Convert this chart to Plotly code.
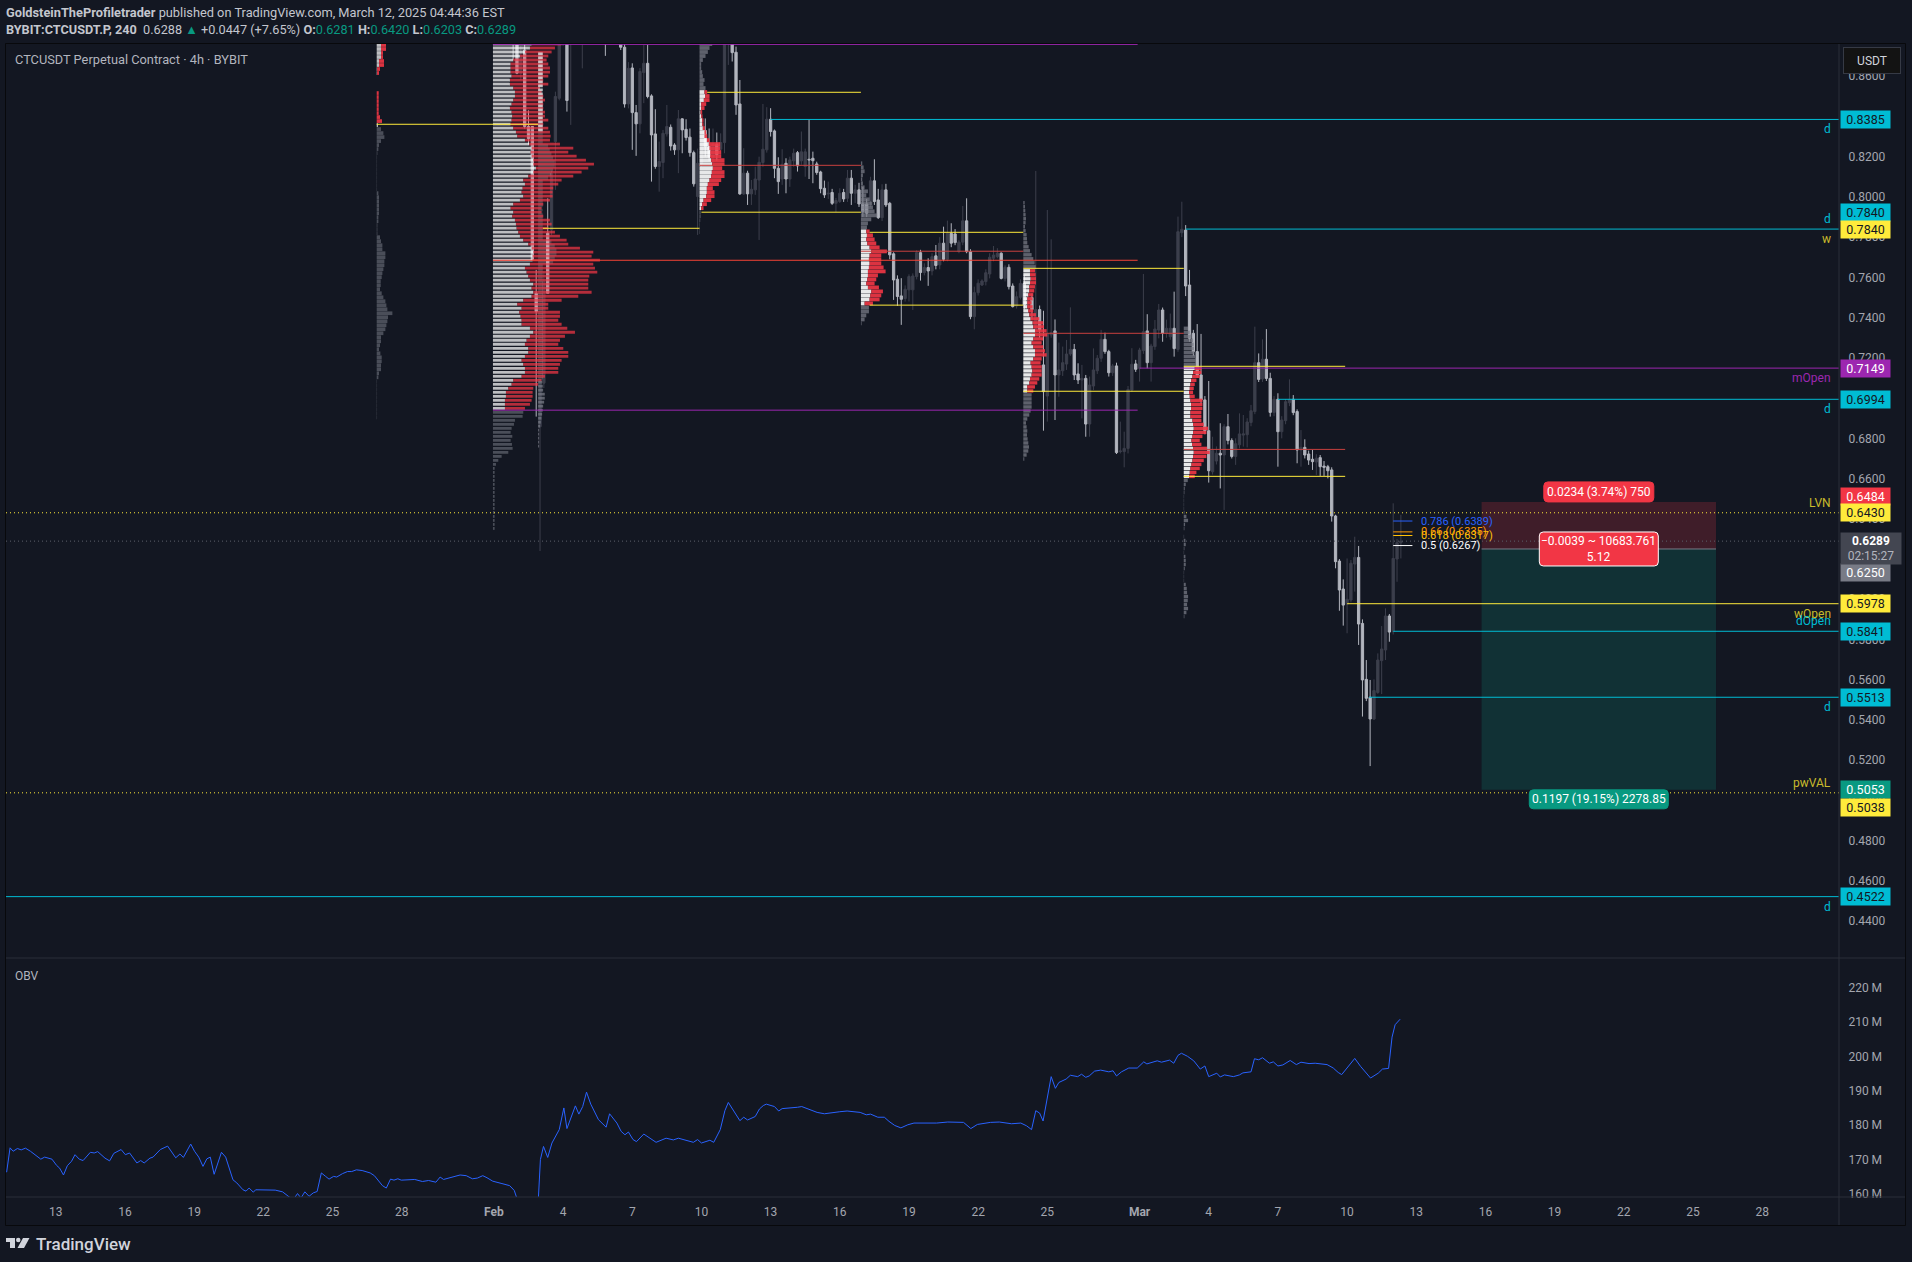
import pandas as pd
import plotly.graph_objects as go

# ---------- price candles (4h bars) ----------
candle_start = "2025-02-01 20:00"
opens = [
.8900,.8755,.8615,.8730,.8350,.8350,.7521,.6858,.7074,.7820,.7836,
.8275,.8490,.8780,.8900,.8800,.8900,.9000,.8900,.9050,.9000,
.9080,.9000,.8950,.8900,.8850,.8880,.8830,.8800,.8744,.8462,
.8641,.8419,.8363,.8618,.8664,.8502,.8313,.8151,.8171,.8313,
.8346,.8258,.8234,.8388,.8336,.8297,.8220,.8002,.8167,.8330,
.8250,.8200,.8260,.8237,.8270,.8800,.8800,.8719,.8462,.8015,
.8118,.8015,.8035,.8084,.8171,.8234,.8386,.8328,.8142,.8089,
.8167,.8089,.8179,.8220,.8179,.8151,.8187,.8192,.8164,.8124,
.8043,.8015,.8022,.7968,.7977,.8022,.7993,.8093,.8018,.8035,
.7965,.7965,.7982,.8080,.7985,.7897,.8035,.7968,.7717,.7591,
.7508,.7495,.7538,.7538,.7604,.7723,.7624,.7649,.7632,.7707,
.7662,.7770,.7690,.7819,.7816,.7728,.7775,.7881,.7728,.7405,
.7524,.7562,.7579,.7617,.7695,.7703,.7720,.7595,.7650,.7557,
.7458,.7501,.7570,.7463,.7500,.7340,.7440,.7165,.7010,.7314,
.7334,.7115,.7136,.7169,.7219,.7242,.7120,.7090,.7098,.6871,
.7060,.7136,.7198,.7292,.7231,.7126,.7160,.6734,.6734,.6750,
.7040,.7170,.7148,.7236,.7334,.7176,.7256,.7338,.7438,.7322,
.7305,.7347,.7242,.7822,.7835,.7562,.7322,.7231,.7115,.6991,
.6838,.6634,.6687,.6726,.6717,.6858,.6789,.6710,.6768,.6816,
.6818,.6879,.6933,.7176,.7095,.7193,.7098,.6929,.6994,.6833,
.6888,.6977,.6994,.6933,.6742,.6755,.6722,.6696,.6682,.6704,
.6662,.6659,.6643,.6414,.6190,.6051,.5975,.5996,.6175,.6208,
.5880,.5602,.5513,.5405,.5537,.5695,.5748,.5917,.5839,.6200,.6281]
highs = [
.8950,.8800,.8750,.8780,.8430,.8350,.7637,.7090,.7630,.7993,.8130,
.8523,.8850,.9050,.8950,.8950,.9050,.9150,.9100,.9120,.9130,
.9130,.9060,.9000,.8950,.8950,.8920,.8890,.8850,.8760,.8670,
.8664,.8457,.8640,.8755,.8755,.8510,.8436,.8275,.8333,.8457,
.8360,.8267,.8432,.8391,.8386,.8340,.8230,.8240,.8340,.8390,
.8340,.8340,.8320,.8316,.8850,.8950,.8850,.8747,.8581,.8242,
.8130,.8084,.8150,.8200,.8462,.8446,.8441,.8335,.8197,.8237,
.8192,.8200,.8240,.8228,.8325,.8240,.8383,.8225,.8175,.8130,
.8081,.8076,.8040,.7995,.8043,.8040,.8134,.8134,.8060,.8070,
.8050,.7990,.8100,.8187,.8040,.8063,.8065,.7975,.7725,.7610,
.7596,.7560,.7615,.7620,.7735,.7737,.7670,.7695,.7720,.7761,
.7800,.7852,.7882,.7869,.7840,.7785,.7955,.7993,.7740,.7554,
.7590,.7590,.7640,.7720,.7756,.7745,.7725,.7660,.7665,.7570,
.7530,.7590,.7610,.7520,.7520,.8129,.7460,.7434,.7935,.7789,
.7391,.7276,.7256,.7289,.7451,.7269,.7173,.7165,.7115,.7107,
.7247,.7214,.7339,.7325,.7240,.7170,.7176,.6883,.6833,.7060,
.7248,.7190,.7250,.7617,.7417,.7270,.7388,.7468,.7450,.7390,
.7420,.7529,.7902,.7976,.7860,.7637,.7339,.7368,.7319,.7010,
.7085,.6808,.6760,.6875,.6870,.6921,.6800,.6800,.6924,.6916,
.6900,.6966,.7355,.7222,.7292,.7343,.7126,.7010,.7024,.6910,
.6995,.7093,.7015,.6944,.6841,.6795,.6739,.6742,.6721,.6717,
.6687,.6668,.6656,.6420,.6200,.6099,.6203,.6195,.6311,.6265,
.5900,.5698,.5599,.5602,.5731,.5867,.5955,.5927,.6477,.6300,.6420]
lows = [
.8681,.8610,.8580,.8340,.8260,.7687,.6908,.6240,.7050,.7521,.7810,
.8035,.8480,.8750,.8424,.8358,.8800,.8850,.8639,.8850,.8900,
.8900,.8850,.8800,.8701,.8780,.8770,.8770,.8730,.8444,.8440,
.8234,.8204,.8316,.8466,.8490,.8076,.8140,.8026,.8093,.8300,
.8230,.8209,.8118,.8217,.8280,.8200,.8051,.7811,.8150,.8200,
.8180,.8170,.8180,.8190,.8217,.8656,.8673,.8408,.8010,.8010,
.7960,.7960,.8010,.7786,.8150,.8220,.8300,.8093,.8015,.8060,
.8018,.8050,.8150,.8126,.8160,.8100,.8089,.8068,.8110,.8018,
.7995,.7990,.7960,.7925,.7970,.7975,.7975,.7960,.7970,.7950,
.7900,.7900,.7950,.7960,.7890,.7880,.7950,.7690,.7488,.7458,
.7364,.7480,.7480,.7438,.7590,.7584,.7610,.7558,.7610,.7640,
.7640,.7680,.7680,.7750,.7760,.7720,.7760,.7720,.7392,.7342,
.7510,.7557,.7560,.7595,.7680,.7695,.7590,.7580,.7540,.7450,
.7445,.7490,.7440,.7420,.7390,.7310,.7300,.6838,.6883,.7300,
.6891,.7007,.7110,.7140,.7210,.7090,.7070,.6899,.6808,.6808,
.7040,.7120,.7180,.7220,.7107,.7110,.6722,.6725,.6656,.6725,
.7030,.7130,.7082,.7220,.7148,.7082,.7240,.7297,.7280,.7300,
.7290,.7206,.7230,.7800,.7507,.7280,.7210,.7100,.6970,.6820,
.6580,.6620,.6670,.6551,.6444,.6770,.6700,.6668,.6750,.6759,
.6755,.6860,.6920,.7080,.7080,.7085,.6908,.6910,.6659,.6800,
.6870,.6960,.6915,.6676,.6659,.6700,.6668,.6643,.6618,.6613,
.6613,.6601,.6386,.6154,.5943,.5869,.5831,.5985,.6038,.5773,
.5417,.5494,.5171,.5400,.5530,.5529,.5698,.5789,.5825,.6087,.6203]
closes = [
.8760,.8615,.8700,.8350,.8290,.7687,.7430,.7074,.7580,.7521,.8117,
.8499,.8780,.9000,.8479,.8900,.9000,.9100,.9050,.9000,.9080,
.9000,.8950,.8900,.8850,.8880,.8830,.8800,.8744,.8462,.8639,
.8419,.8363,.8623,.8664,.8499,.8308,.8151,.8176,.8316,.8350,
.8253,.8234,.8388,.8333,.8295,.8220,.8065,.8167,.8330,.8250,
.8200,.8260,.8210,.8270,.8790,.8900,.8717,.8457,.8015,.8118,
.8015,.8038,.8089,.8172,.8237,.8386,.8325,.8142,.8076,.8162,
.8089,.8184,.8217,.8154,.8224,.8224,.8184,.8180,.8121,.8041,
.8010,.8018,.7968,.7982,.8018,.7990,.8093,.8018,.8035,.7965,
.7927,.7919,.8080,.7977,.7897,.8035,.7960,.7712,.7587,.7505,
.7491,.7541,.7604,.7607,.7723,.7624,.7649,.7632,.7703,.7659,
.7770,.7690,.7819,.7770,.7773,.7775,.7881,.7728,.7405,.7524,
.7571,.7582,.7623,.7700,.7711,.7720,.7595,.7650,.7554,.7455,
.7504,.7570,.7463,.7500,.7440,.7440,.7340,.7032,.7322,.7325,
.7115,.7140,.7176,.7219,.7242,.7115,.7090,.7098,.6871,.7065,
.7140,.7198,.7292,.7231,.7126,.7160,.6729,.6737,.6750,.7043,
.7168,.7143,.7239,.7330,.7176,.7259,.7343,.7438,.7322,.7347,
.7347,.7246,.7827,.7839,.7557,.7297,.7231,.7115,.6991,.6838,
.6639,.6739,.6726,.6717,.6858,.6789,.6710,.6773,.6822,.6822,
.6881,.6937,.7176,.7093,.7193,.7098,.6929,.6994,.6833,.6891,
.6982,.6994,.6928,.6742,.6755,.6717,.6692,.6684,.6701,.6659,
.6656,.6639,.6414,.6187,.6046,.5971,.6000,.6179,.6208,.5877,
.5599,.5508,.5405,.5546,.5698,.5753,.5917,.5837,.6203,.6281,.6289]

# ---------- OBV: bars counted from 1 Feb 00:00, value in millions ----------
obv_bar = [-126.8,-125.9,-125.1,-124.0,-123.0,-121.9,-120.6,-119.0,-117.9,-116.9,-115.0,-113.8,-113.0,-112.0,-111.0,-109.9,-109.0,-107.9,-106.9,-105.0,-104.0,-103.1,-101.2,-100.0,-98.9,-97.0,-95.9,-94.8,-92.9,-91.9,-91.0,-89.5,-88.7,-86.8,-84.9,-82.8,-81.7,-80.8,-78.9,-77.9,-76.8,-75.7,-74.7,-73.8,-72.8,-70.9,-69.8,-67.9,-66.9,-65.3,-64.5,-63.7,-62.6,-62.0,-56.9,-55.0,-52.9,-52.1,-51.1,-50.2,-49.2,-48.1,-47.0,-46.0,-44.9,-43.8,-42.9,-41.7,-40.9,-39.4,-38.1,-37.0,-35.8,-34.3,-32.2,-31.1,-29.8,-29.0,-28.0,-26.9,-26.0,-25.0,-24.1,-21.8,-20.6,-18.6,-17.0,-15.1,-14.0,-13.1,-10.7,-8.8,-7.2,-5.6,-4.3,-2.9,-1.8,-0.3,2.1,4.1,5.3,6.1,8.4,11.3,11.6,12.1,12.9,14.0,15.1,17.0,18.2,19.0,21.2,22.1,23.1,24.1,25.2,27.2,29.2,30.1,32.0,33.1,34.1,35.0,36.2,37.1,39.0,41.1,42.2,44.8,46.7,48.0,50.7,51.9,53.0,54.0,56.2,57.2,58.9,60.1,61.0,63.1,64.0,65.0,66.0,68.0,69.1,70.1,70.9,73.0,74.1,75.0,76.9,79.0,80.1,82.0,84.1,86.0,88.1,90.0,91.9,94.0,95.3,96.9,98.0,99.9,101.6,102.8,104.3,105.9,107.7,109.3,112.0,115.2,118.1,121.3,122.2,124.1,125.8,129.2,131.5,134.7,137.1,138.6,139.9,141.0,142.0,142.9,144.0,145.0,146.1,147.0,148.9,150.0,151.9,152.9,154.0,154.9,156.3,157.9,160.0,161.1,162.0,163.3,165.2,167.4,169.1,169.9,172.6,173.7,175.8,176.9,178.0,178.9,180.5,182.1,183.8,185.0,186.0,188.1,189.0,190.1,192.4,194.0,194.9,197.0,197.9,199.0,200.0,201.8,202.8,204.0,205.3,207.2,208.8,210.0,212.1,213.7,216.8,218.4,219.7,220.6,224.0,225.5,228.1,230.1,231.2,232.8,233.7,234.5,235.8]
obv_m = [166.3,173.4,172.4,173.2,172.8,173.3,172.4,170.9,170.1,170.7,170.1,168.3,167.5,165.5,168.2,169.5,171.4,170.1,169.7,172.1,171.9,172.3,170.4,169.6,171.8,172.9,171.4,171.9,169.0,169.7,169.0,170.4,170.7,172.9,173.9,170.5,171.6,170.6,174.5,172.4,170.7,168.0,170.2,170.7,165.7,172.1,170.7,164.1,163.2,161.2,160.8,161.7,160.5,161.2,161.1,160.6,158.8,158.5,160.1,158.8,160.6,159.3,160.3,160.7,166.1,165.1,164.3,165.1,164.9,165.9,166.5,166.5,167.0,166.8,166.1,165.3,163.7,162.4,161.7,164.3,164.0,164.4,164.0,164.0,164.2,163.6,163.9,163.4,164.9,164.2,164.9,165.5,165.3,164.4,164.6,165.3,164.7,163.7,163.0,162.4,161.0,158.3,155.9,155.9,159.3,170.0,173.8,170.6,174.8,178.7,185.0,179.0,185.6,183.2,185.4,189.6,186.1,181.6,179.4,183.3,180.6,178.2,177.2,178.0,175.8,175.2,177.4,175.8,175.0,176.2,175.7,176.2,175.3,175.0,175.8,174.8,175.6,175.0,178.7,184.2,186.6,183.0,181.3,182.3,181.5,182.5,184.7,185.7,186.1,185.4,184.1,184.8,184.9,185.2,185.4,184.5,183.7,183.3,183.7,183.9,184.1,183.9,183.7,183.0,183.2,182.3,182.3,181.1,179.9,179.2,180.1,180.6,180.6,180.6,180.9,180.9,180.8,179.0,180.2,180.8,180.9,180.4,180.6,179.8,178.7,184.2,183.5,181.2,187.4,194.1,190.7,192.4,193.4,194.5,194.1,194.8,193.9,194.3,195.7,196.0,195.5,195.8,194.3,195.5,196.6,196.6,198.4,197.8,198.7,198.3,198.9,198.0,200.3,200.9,200.0,198.7,196.3,197.2,194.1,195.1,194.0,194.6,194.1,194.6,195.2,195.5,199.3,199.0,199.6,198.0,198.4,197.2,197.5,198.8,197.6,198.3,197.9,198.0,197.6,196.6,195.3,194.7,199.4,197.1,193.7,195.1,196.3,196.5,205.6,209.2,210.8]

# ---------- volume profiles (rows from the top, fixed price bin) ----------
bin_size = 0.00199

a_anchor = "2025-01-26 22:00"; a_top = 0.8755
a_gray_top = []
a_up = [13,13,13,13,7,7,1,1,0,0,0,0,0,0,0,0,0,0,0,0,4]
a_down = [15,15,6,6,15,15,9,6,0,0,0,0,6,6,6,6,6,6,10,16,0]
a_gray_bottom = [13,20,23,13,7,5,2,1,1,1,1,1,1,1,1,1,5,7,7,7,7,7,5,5,2,2,2,10,13,17,17,26,26,23,23,20,17,15,12,12,10,15,20,26,29,32,47,34,32,29,26,20,13,13,10,7,11,15,15,13,13,7,5,1,1,1,1,1,1,1,1,1,1]

b_anchor = "2025-01-31 23:00"; b_top = 0.8760
b_up = [116,111,96,81,61,53,53,53,56,51,51,61,66,66,61,56,51,56,58,56,53,61,69,73,96,109,116,113,116,121,121,129,121,106,91,96,89,86,91,81,61,53,61,58,66,69,71,76,81,91,106,116,121,119,119,111,96,101,106,111,121,116,121,116,91,73,86,79,83,86,86,111,121,111,101,96,106,106,96,86,91,96,96,86,61,56,46,39,39,36,36,36]
b_down = [90,75,80,85,100,113,118,118,110,100,115,80,80,85,95,95,100,100,98,110,98,105,102,100,75,92,125,113,135,158,182,157,145,135,115,100,92,93,88,90,90,93,85,93,105,107,95,110,120,130,120,145,180,177,202,190,210,212,183,175,165,170,175,140,115,93,80,122,118,110,120,112,125,105,100,100,105,120,130,120,110,100,100,70,85,80,75,80,80,80,75,60]
b_gray_bottom = [91,89,66,63,56,53,58,53,57,59,46,26,16,9,5,5,5,5,5,5,5,5,5,5,5,5,5,5,5,5]

s_anchor = "2025-02-02 22:00"; s_top = 0.8711
s_up = [14]*20
s_down = [0]*20
s_mid = [14,14,14,30,35,40,45,50,50,45,40,30,14,14,14,14,14,14,14,14,14,14,14,14,14,14,14,40,50,55,55,50,45,14,14,14,14,14,14,14,14,14,14,14,14,14,14,14,14,14,14,14,14,14,14,14,14,14,14,14,14,14]
s_gray_bottom = [12,14,15,20,20,18,15,14,12,10,8,6,3,3,3,3,3]

c_anchor = "2025-02-09 22:00"; c_top = 0.8760
c_gray_top = [38,30,25,18,10,5,5,8,10,15,12,18]
c_up = [15,17,13,5,5,3,5,8,8,10,15,15,22,28,30,32,32,35,38,40,37,35,30,25,22,22,20,12,8,5]
c_down = [8,13,17,15,10,5,4,4,4,6,5,8,8,34,32,33,33,40,37,28,38,40,35,33,18,23,25,23,14,7]
c_gray_bottom = [3,3,2,1,1,1]

d_anchor = "2025-02-16 22:00"; d_top = 0.8167
d_gray_top = [4,8,11,6,4,6,11,21,16,26,34,36,41,49,31,21,18]
d_up = [16,18,16,19,26,31,26,24,26,24,21,21,19,16,21,31,28,26,11]
d_down = [10,18,25,27,30,47,35,37,35,44,53,30,27,25,33,35,33,30,25]
d_gray_bottom = [24,24,16,11,2]

e_anchor = "2025-02-23 23:00"; e_top = 0.7971
e_gray_top = [4,5,6,7,8,7,5,7,10,11,12,16,20,25,30,34,37]
e_up = [20,20,22,20,18,18,15,12,12,12,15,18,22,28,30,35,35,30,25,30,35,35,30,22,25,27,25,20,18,12,12]
e_down = [15,17,16,18,17,15,15,16,13,16,15,20,26,32,32,35,37,30,30,30,30,35,25,30,30,28,30,28,24,23,18]
e_gray_bottom = [25,25,25,25,22,18,12,8,10,12,11,13,15,17,15,10,3]

f_anchor = "2025-03-02 22:00"; f_top = 0.7347
f_gray_top = [13,18,23,28,30,31,32,34,36,36]
f_up = [33,28,26,22,20,18,16,18,20,22,22,20,20,26,28,30,28,26,23,25,28,30,28,26,23,20,18,16]
f_down = [20,25,22,16,13,12,12,15,36,34,34,33,33,27,32,43,40,30,25,28,42,48,40,34,30,28,20,17]
f_gray_bottom = [12,6,3,2,1,1,1,1,2,8,13,4,2,0,1,5,6,2,1,5,6,6,3,1,1,1,6,9,10,13,12,10,13,8,2]

# ---------- level lines ----------
axis_end = "2025-03-31 08:00"
axis_start = "2025-01-10 20:10"
level_price = [.8758,.8361,.8520,.8385,.8157,.7924,.7844,.7685,.6940,.7824,.7730,.7462,.7322,.7645,.7034,.7149,.7840,.7158,.6994,.6745,.6611,.5978,.5841,.5513,.4522]
level_from = ["2025-01-31 23:00","2025-01-26 22:00","2025-02-10 06:00","2025-02-13 00:00","2025-02-09 22:00","2025-02-10 00:00","2025-02-03 03:00","2025-01-31 23:00","2025-01-31 23:00","2025-02-17 07:00","2025-02-16 22:00","2025-02-17 07:00","2025-02-23 23:00","2025-02-23 23:00","2025-02-23 23:00","2025-03-01 00:00","2025-03-03 00:00","2025-03-02 22:00","2025-03-07 00:00","2025-03-02 22:00","2025-03-02 22:00","2025-03-10 00:00","2025-03-12 00:00","2025-03-10 23:00",axis_start]
level_to = ["2025-02-28 22:00","2025-02-02 22:00","2025-02-16 22:00",axis_end,"2025-02-16 22:00","2025-02-16 22:00","2025-02-09 22:00","2025-02-28 22:00","2025-02-28 22:00","2025-02-23 23:00","2025-02-23 23:00","2025-02-23 23:00","2025-03-02 22:00","2025-03-02 22:00","2025-03-02 22:00",axis_end,axis_end,"2025-03-09 22:00",axis_end,"2025-03-09 22:00","2025-03-09 22:00",axis_end,axis_end,axis_end,axis_end]
level_color = ["#9c27b0","#ffeb3b","#ffeb3b","#00bcd4","#c8403f","#ffeb3b","#ffeb3b","#f44336","#9c27b0","#ffeb3b","#c8403f","#ffeb3b","#c8403f","#ffeb3b","#ffeb3b","#9c27b0","#00bcd4","#ffeb3b","#00bcd4","#c8403f","#ffeb3b","#ffeb3b","#00bcd4","#00bcd4","#00bcd4"]
dotted_price = [.6430,.5038,.6289]
dotted_color = ["#ffeb3b","#ffeb3b","#5d606b"]

# fib levels
fib_ratio = ["0.786","0.66","0.618","0.5"]
fib_price = [.6389,.6335,.6317,.6267]
fib_color = ["#2962ff","#ff9800","#ffc107","#ffffff"]
fib_from = "2025-03-12 00:00"
fib_to = "2025-03-12 20:00"

# position tool
pos_from = "2025-03-15 20:00"; pos_to = "2025-03-26 00:00"
pos_stop = .6484; pos_entry = .6250; pos_target = .5053

# axis labels
price_ticks = [.44,.46,.48,.50,.52,.54,.56,.58,.60,.62,.64,.66,.68,.70,.72,.74,.76,.78,.80,.82,.84,.86]
obv_ticks = [160,170,180,190,200,210,220]
date_ticks = ["2025-01-13","2025-01-16","2025-01-19","2025-01-22","2025-01-25","2025-01-28","2025-02-01","2025-02-04","2025-02-07","2025-02-10","2025-02-13","2025-02-16","2025-02-19","2025-02-22","2025-02-25","2025-03-01","2025-03-04","2025-03-07","2025-03-10","2025-03-13","2025-03-16","2025-03-19","2025-03-22","2025-03-25","2025-03-28"]
date_text = ["13","16","19","22","25","28","<b>Feb</b>","4","7","10","13","16","19","22","25","<b>Mar</b>","4","7","10","13","16","19","22","25","28"]

# right-hand price tags: price, background, text colour, shift in pixels
tag_price = [.8385,.7840,.7840,.7149,.6994,.6484,.6430,.6250,.5978,.5841,.5513,.5053,.5038,.4522]
tag_bg = ["#00bcd4","#00bcd4","#ffeb3b","#9c27b0","#00bcd4","#f23645","#ffeb3b","#787b86","#ffeb3b","#00bcd4","#00bcd4","#089981","#ffeb3b","#00bcd4"]
tag_fg = ["#131722","#131722","#131722","#ffffff","#131722","#ffffff","#131722","#ffffff","#131722","#131722","#131722","#ffffff","#131722","#131722"]
tag_shift = [0,16.5,0,0,0,5,0,-23.4,0,0,0,0,-14.7,0]

# small level names at the right edge
name_text = ["d","d","w","mOpen","d","LVN","wOpen","dOpen","d","pwVAL","d"]
name_price = [.8385,.7840,.7840,.7149,.6994,.6430,.5978,.5841,.5513,.5038,.4522]
name_shift = [-10,10,-10,-10,-10,10,-10,10,-10,10,-10]
name_color = ["#00bcd4","#00bcd4","#c9bb2c","#9c27b0","#00bcd4","#c9bb2c","#c9bb2c","#00bcd4","#00bcd4","#c9bb2c","#00bcd4"]

BG = "#131722"
W, H = 1912, 1262
PL, PR, PT, PB = 6, 1839, 44, 1197
SEP = 958
FONT = "Roboto"
HOURS_PER_VOL = 4 / 11.53
TICK = "#a3a6af"


def px(x):
    return (x - PL) / (PR - PL)


def py(y):
    return (PB - y) / (PB - PT)


fig = go.Figure()

# position boxes
fig.add_trace(go.Scatter(x=[pos_from, pos_to, pos_to, pos_from, pos_from],
                         y=[pos_entry, pos_entry, pos_stop, pos_stop, pos_entry],
                         mode="lines", fill="toself", fillcolor="rgba(242,54,69,0.2)",
                         line=dict(width=0), hoverinfo="skip"))
fig.add_trace(go.Scatter(x=[pos_from, pos_to, pos_to, pos_from, pos_from],
                         y=[pos_target, pos_target, pos_entry, pos_entry, pos_target],
                         mode="lines", fill="toself", fillcolor="rgba(8,153,129,0.2)",
                         line=dict(width=0), hoverinfo="skip"))
fig.add_trace(go.Scatter(x=[pos_from, pos_to], y=[pos_entry, pos_entry], mode="lines",
                         line=dict(color="#787b86", width=1), hoverinfo="skip"))

# candles
times = pd.date_range(candle_start, periods=len(opens), freq="4h")
fig.add_trace(go.Candlestick(x=times, open=opens, high=highs, low=lows, close=closes,
                             increasing=dict(line=dict(color="#3c3f4c", width=1), fillcolor="#3c3f4c"),
                             decreasing=dict(line=dict(color="#b2b5be", width=1), fillcolor="#b2b5be"),
                             whiskerwidth=0, hoverinfo="skip"))


def segs(anchor, top, starts, ends, skip=0):
    xs, ys = [], []
    a = pd.Timestamp(anchor)
    for i, (s, e) in enumerate(zip(starts, ends)):
        if e <= s:
            continue
        p = top - (i + skip) * bin_size
        xs += [a + pd.Timedelta(hours=s * HOURS_PER_VOL), a + pd.Timedelta(hours=e * HOURS_PER_VOL), None]
        ys += [p, p, None]
    return xs, ys


def rows(anchor, top, starts, ends, skip, color, lw):
    x, y = segs(anchor, top, starts, ends, skip)
    fig.add_trace(go.Scatter(x=x, y=y, mode="lines", line=dict(color=color, width=lw), hoverinfo="skip"))


def profile(anchor, top, gray_top, up, down, gray_bottom, white, red, gray, lw):
    n0 = len(gray_top)
    n1 = n0 + len(up)
    rows(anchor, top, [0] * n0, gray_top, 0, gray, lw)
    rows(anchor, top, [0] * len(gray_bottom), gray_bottom, n1, gray, lw)
    rows(anchor, top, [0] * len(up), up, n0, white, lw)
    rows(anchor, top, up, [u + d for u, d in zip(up, down)], n0, red, lw)


WH_B, RD_B, GR_B = "rgba(255,255,255,0.72)", "rgba(242,54,69,0.72)", "rgba(120,123,134,0.55)"
WH_C, RD_C, GR_C = "rgba(255,255,255,0.9)", "rgba(242,54,69,0.9)", "rgba(120,123,134,0.75)"
profile(a_anchor, a_top, a_gray_top, a_up, a_down, a_gray_bottom, WH_B, RD_C, GR_B, 3.7)
profile(b_anchor, b_top, [], b_up, b_down, b_gray_bottom, WH_B, RD_B, GR_B, 2.8)
profile(s_anchor, s_top, [], s_up, s_down, [], WH_B, RD_B, GR_C, 2.8)
rows(s_anchor, s_top, [0] * len(s_mid), s_mid, len(s_up), "rgba(255,255,255,0.16)", 2.8)
rows(s_anchor, s_top, [0] * len(s_gray_bottom), s_gray_bottom, len(s_up) + len(s_mid), GR_C, 2.8)
profile(c_anchor, c_top, c_gray_top, c_up, c_down, c_gray_bottom, WH_C, RD_C, GR_C, 3.8)
profile(d_anchor, d_top, d_gray_top, d_up, d_down, d_gray_bottom, WH_C, RD_C, GR_C, 3.8)
profile(e_anchor, e_top, e_gray_top, e_up, e_down, e_gray_bottom, WH_C, RD_C, GR_C, 3.4)
profile(f_anchor, f_top, f_gray_top, f_up, f_down, f_gray_bottom, WH_C, RD_C, GR_C, 3.4)

# level lines
for p, a, b, col in zip(level_price, level_from, level_to, level_color):
    fig.add_trace(go.Scatter(x=[a, b], y=[p, p], mode="lines", line=dict(color=col, width=1), hoverinfo="skip"))
for p, col in zip(dotted_price, dotted_color):
    fig.add_trace(go.Scatter(x=[axis_start, axis_end], y=[p, p], mode="lines",
                             line=dict(color=col, width=1, dash="1px 3px"), hoverinfo="skip"))
for p, col in zip(fib_price, fib_color):
    fig.add_trace(go.Scatter(x=[fib_from, fib_to], y=[p, p], mode="lines", line=dict(color=col, width=1), hoverinfo="skip"))

# OBV
base = pd.Timestamp("2025-02-01")
fig.add_trace(go.Scatter(x=[base + pd.Timedelta(hours=4 * b) for b in obv_bar], y=obv_m, yaxis="y2",
                         mode="lines", line=dict(color="#2962ff", width=1), hoverinfo="skip"))

ann = []


def note(x, y, text, color="#b2b5be", size=12, anchor="left", xref="paper", yref="paper", weight=None):
    f = dict(family=FONT, size=size, color=color)
    if weight:
        f["weight"] = weight
    ann.append(dict(x=x, y=y, xref=xref, yref=yref, text=text, showarrow=False, xanchor=anchor,
                    yanchor="middle", align="left", borderpad=0, font=f))


G = "#089981"
note(px(5), py(12.5), "<b>GoldsteinTheProfiletrader</b> published on TradingView.com, March 12, 2025 04:44:36 EST", "#c3c6ce", 12.8)
note(px(5), py(29.5),
     f"<b>BYBIT:CTCUSDT.P, 240</b>  0.6288 <span style='color:{G}'>▲</span> +0.0447 (+7.65%) "
     f"<b>O:</b><span style='color:{G}'>0.6281</span> <b>H:</b><span style='color:{G}'>0.6420</span> "
     f"<b>L:</b><span style='color:{G}'>0.6203</span> <b>C:</b><span style='color:{G}'>0.6289</span>", "#c3c6ce", 12.7)
note(px(14), py(60), "CTCUSDT Perpetual Contract · 4h · BYBIT", "#b2b5be", 12.8)
note(px(14), py(976), "OBV", "#b2b5be", 12)
note(px(35), py(1243.5), "TradingView", "#d1d4dc", 17, weight=500)

# right axis tags
for p, bg, fg, sh in zip(tag_price, tag_bg, tag_fg, tag_shift):
    ann.append(dict(x=px(1840), y=p, xref="paper", yref="y", yshift=sh, text=f"{p:.4f}", showarrow=False,
                    xanchor="left", yanchor="middle", width=49, height=17, bgcolor=bg, borderpad=0, align="center",
                    font=dict(family=FONT, size=12.5, color=fg)))
# last price with countdown
ann.append(dict(x=px(1840), y=py(548.5), xref="paper", yref="paper", showarrow=False, xanchor="left", yanchor="middle",
                width=60, height=31, bgcolor="#434651", borderpad=0, align="center",
                text="<b>0.6289</b><br><span style='color:#b2b5be'>02:15:27</span>",
                font=dict(family=FONT, size=12, color="#ffffff")))
ann.append(dict(x=px(1843), y=py(60.5), xref="paper", yref="paper", showarrow=False, xanchor="left", yanchor="middle",
                width=56, height=25, bgcolor="#131313", bordercolor="#363a45", borderwidth=1, borderpad=0, align="center",
                text="USDT", font=dict(family=FONT, size=12, color="#d1d4dc")))

for t, p, sh, col in zip(name_text, name_price, name_shift, name_color):
    ann.append(dict(x=px(1832), y=p, xref="paper", yref="y", yshift=sh, text=t, showarrow=False, borderpad=0,
                    xanchor="right", yanchor="middle", font=dict(family=FONT, size=12, color=col)))

for r, p, col in zip(fib_ratio, fib_price, fib_color):
    ann.append(dict(x=px(1420), y=p, xref="paper", yref="y", text=f"{r} ({p:.4f})", showarrow=False, borderpad=0,
                    xanchor="left", yanchor="middle", font=dict(family=FONT, size=11, color=col)))

# position tags: rounded boxes behind real text
mid = pd.Timestamp(pos_from) + (pd.Timestamp(pos_to) - pd.Timestamp(pos_from)) / 2


def rounded(anchor_price, half_w, y0, y1, fill, line=None, r=4):
    path = (f"M {-half_w + r} {y0} L {half_w - r} {y0} Q {half_w} {y0} {half_w} {y0 + r} "
            f"L {half_w} {y1 - r} Q {half_w} {y1} {half_w - r} {y1} L {-half_w + r} {y1} "
            f"Q {-half_w} {y1} {-half_w} {y1 - r} L {-half_w} {y0 + r} Q {-half_w} {y0} {-half_w + r} {y0} Z")
    return dict(type="path", xsizemode="pixel", ysizemode="pixel", xref="x", yref="y", xanchor=mid,
                yanchor=anchor_price, path=path, fillcolor=fill, layer="above",
                line=dict(color=line or fill, width=1))


ann.append(dict(x=mid, y=pos_stop, xref="x", yref="y", yshift=10, showarrow=False, xanchor="center", yanchor="middle",
                text="0.0234 (3.74%) 750", font=dict(family=FONT, size=12, color="#ffffff")))
ann.append(dict(x=mid, y=pos_entry, xref="x", yref="y", showarrow=False, xanchor="center", yanchor="middle",
                text="−0.0039 ~ 10683.761<br>5.12", font=dict(family=FONT, size=12, color="#ffffff")))
ann.append(dict(x=mid, y=pos_target, xref="x", yref="y", yshift=-9.5, showarrow=False, xanchor="center", yanchor="middle",
                text="0.1197 (19.15%) 2278.85", font=dict(family=FONT, size=12, color="#ffffff")))

# pane frames
frame = "#2a2e39"
logo_color = "#d1d4dc"
shapes = [
    dict(type="rect", xref="paper", yref="paper", x0=px(5.5), x1=px(1905.5), y0=py(1225.5), y1=py(43.5),
         line=dict(color="#08090c", width=1), layer="below"),
    dict(type="line", xref="paper", yref="paper", x0=0, x1=px(1905), y0=py(SEP), y1=py(SEP), line=dict(color=frame, width=1)),
    dict(type="line", xref="paper", yref="paper", x0=0, x1=px(1905), y0=py(PB), y1=py(PB), line=dict(color=frame, width=1)),
    dict(type="line", xref="paper", yref="paper", x0=1, x1=1, y0=py(1225), y1=py(44), line=dict(color=frame, width=1)),
    rounded(pos_stop, 55, 0, 20, "#f23645"),
    rounded(pos_entry, 59.5, -17, 17, "#f23645", "#ffffff"),
    rounded(pos_target, 69.5, -19, 0, "#089981"),
    # TradingView logo mark
    dict(type="path", xref="paper", yref="paper", fillcolor=logo_color, line=dict(width=0),
         path=f"M {px(6)} {py(1238)} L {px(15)} {py(1238)} L {px(15)} {py(1248)} L {px(10)} {py(1248)} "
              f"L {px(10)} {py(1242)} L {px(6)} {py(1242)} Z"),
    dict(type="circle", xref="paper", yref="paper", fillcolor=logo_color, line=dict(width=0),
         x0=px(16), x1=px(20.5), y0=py(1242.2), y1=py(1237.8)),
    dict(type="path", xref="paper", yref="paper", fillcolor=logo_color, line=dict(width=0),
         path=f"M {px(23)} {py(1238)} L {px(29.5)} {py(1238)} L {px(24)} {py(1248)} L {px(17.5)} {py(1248)} Z"),
]

split = (PB - SEP) / (PB - PT)
fig.update_layout(
    width=W, height=H, autosize=False, showlegend=False, hovermode=False,
    paper_bgcolor=BG, plot_bgcolor=BG,
    margin=dict(l=PL, r=W - PR, t=PT, b=H - PB, pad=0),
    boxgap=0.15, dragmode=False,
    annotations=ann, shapes=shapes,
    xaxis=dict(type="date", range=[axis_start, axis_end], anchor="y2", showgrid=False, zeroline=False,
               tickmode="array", tickvals=date_ticks, ticktext=date_text, ticks="outside", ticklen=4,
               tickcolor="rgba(0,0,0,0)", showline=False, rangeslider=dict(visible=False),
               tickfont=dict(family=FONT, size=12, color=TICK)),
    yaxis=dict(domain=[split, 1], range=[0.4217, 0.8760], side="right", anchor="x", showgrid=False, zeroline=False,
               tickmode="array", tickvals=price_ticks, ticktext=[f"{v:.4f}" for v in price_ticks],
               ticks="outside", ticklen=6, tickcolor="rgba(0,0,0,0)", showline=False,
               tickfont=dict(family=FONT, size=12, color=TICK)),
    yaxis2=dict(domain=[0, split], range=[159.1, 228.6], side="right", anchor="x", showgrid=False, zeroline=False,
                tickmode="array", tickvals=obv_ticks, ticktext=[f"{v} M" for v in obv_ticks],
                ticks="outside", ticklen=6, tickcolor="rgba(0,0,0,0)", showline=False,
                tickfont=dict(family=FONT, size=12, color=TICK)),
)

fig.write_html("out.html", config=dict(displayModeBar=False, staticPlot=True),
               post_script=f"document.body.style.margin='0';document.body.style.background='{BG}';")
